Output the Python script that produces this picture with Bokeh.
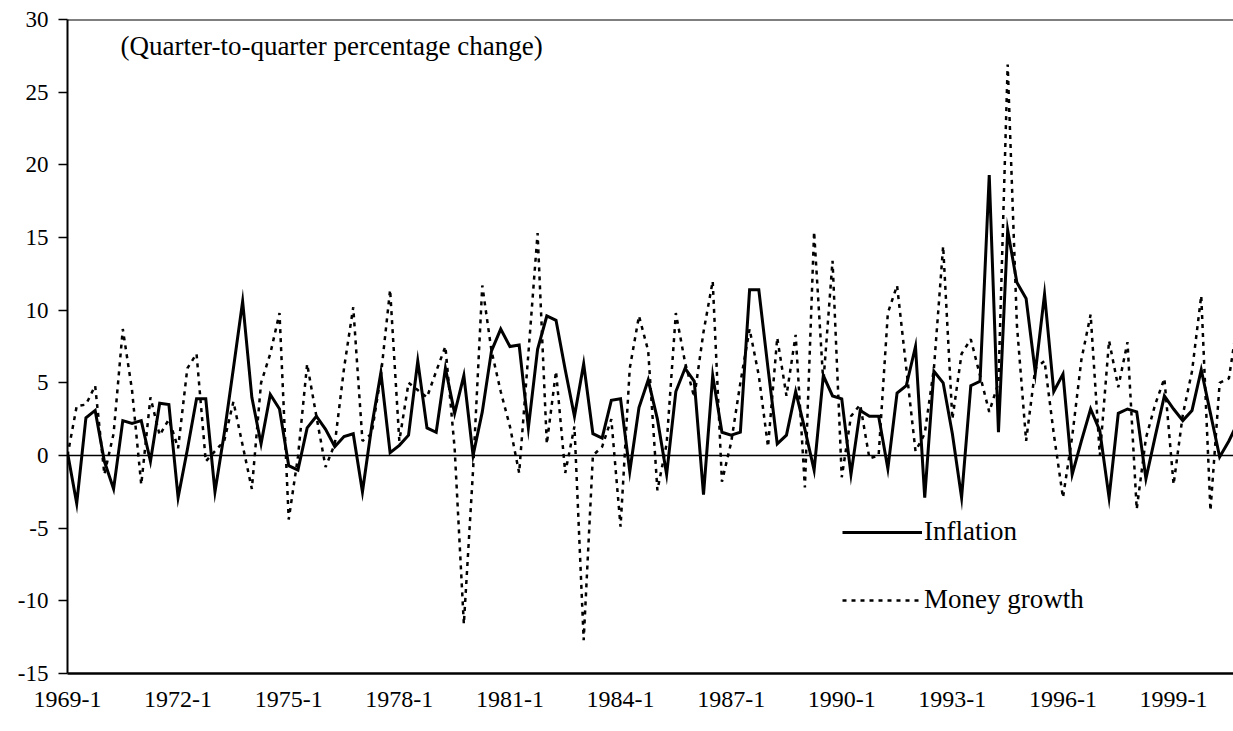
from bokeh.plotting import figure
from bokeh.models import Range1d, FixedTicker, Span, Label, Legend, LegendItem
from bokeh.embed import file_html
from bokeh.resources import INLINE

# Quarter-to-quarter percentage change, 1969-1 .. 2000-4
inflation = [
    0.2, -3.3, 2.6, 3.1, -0.4, -2.3, 2.4, 2.2, 2.4, -0.4, 3.6, 3.5,
    -2.9, 0.4, 3.9, 3.9, -2.5, 1.5, 6.0, 10.6, 4.0, 0.8, 4.2, 3.2,
    -0.7, -1.0, 1.9, 2.7, 1.8, 0.6, 1.3, 1.5, -2.5, 2.0, 5.7, 0.2,
    0.7, 1.4, 6.5, 1.9, 1.6, 6.0, 2.9, 5.5, 0.0, 3.0, 7.2, 8.7,
    7.5, 7.6, 1.9, 7.3, 9.6, 9.3, 5.9, 2.7, 6.3, 1.5, 1.2, 3.8,
    3.9, -1.1, 3.3, 5.2, 2.5, -1.3, 4.4, 6.0, 5.1, -2.7, 5.5, 1.6,
    1.4, 1.6, 11.4, 11.4, 6.0, 0.8, 1.4, 4.4, 1.8, -1.0, 5.5, 4.1,
    3.9, -1.3, 3.1, 2.7, 2.7, -0.9, 4.3, 4.8, 7.5, -2.9, 5.8, 5.0,
    1.5, -2.9, 4.8, 5.1, 19.3, 1.6, 15.5, 11.9, 10.8, 5.7, 11.1, 4.4,
    5.6, -1.3, 1.0, 3.2, 1.7, -2.9, 2.9, 3.2, 3.0, -1.6, 1.3, 4.1,
    3.2, 2.4, 3.1, 5.9, 2.9, -0.1, 1.0, 2.3,
]
money_growth = [
    0.0, 3.4, 3.5, 4.8, -1.3, 1.5, 8.7, 4.5, -2.0, 4.0, 1.4, 2.5,
    0.5, 6.0, 7.0, -0.4, 0.3, 1.0, 3.7, 0.7, -2.3, 5.0, 7.0, 9.8,
    -4.4, -0.1, 6.3, 2.7, -0.8, 0.8, 6.0, 10.2, 1.0, 1.5, 5.5, 11.4,
    1.0, 5.0, 4.5, 4.0, 5.8, 7.5, 0.5, -11.6, -1.0, 11.7, 7.2, 4.4,
    2.0, -1.2, 7.0, 15.3, 0.8, 5.8, -1.2, 2.0, -12.7, 0.0, 0.6, 2.5,
    -4.9, 6.0, 9.6, 7.2, -2.4, 0.8, 9.8, 6.4, 4.0, 8.5, 12.0, -1.8,
    0.9, 5.0, 8.7, 5.5, 0.6, 8.1, 4.1, 8.3, -2.2, 15.4, 5.0, 13.4,
    -1.5, 2.7, 3.5, -0.2, 0.0, 9.8, 11.7, 6.0, 0.3, 1.5, 6.0, 14.4,
    2.5, 7.0, 8.0, 5.5, 3.0, 5.0, 26.9, 9.0, 1.0, 6.0, 6.5, 1.5,
    -2.9, 1.3, 6.6, 9.7, 0.0, 7.9, 4.7, 7.8, -3.7, 1.2, 3.5, 5.3,
    -2.0, 2.8, 5.8, 11.0, -3.8, 5.0, 5.3, 9.5,
]
quarters = [f"{y}-{q}" for y in range(1969, 2001) for q in range(1, 5)]
tick_labels = ["1969-1", "1972-1", "1975-1", "1978-1", "1981-1", "1984-1",
               "1987-1", "1990-1", "1993-1", "1996-1", "1999-1"]
y_ticks = [-15, -10, -5, 0, 5, 10, 15, 20, 25, 30]
series_names = ["Inflation", "Money growth"]
note = "(Quarter-to-quarter percentage change)"

FONT = "Liberation Serif"
x = list(range(len(quarters)))
tick_pos = [quarters.index(t) for t in tick_labels]

p = figure(width=1233, height=728, output_backend="svg", toolbar_location=None,
           x_range=Range1d(0, 126.5), y_range=Range1d(-15, 30),
           min_border_left=67, min_border_right=0, min_border_top=19,
           min_border_bottom=55)
p.outline_line_color = None
p.xgrid.grid_line_color = None
p.ygrid.grid_line_color = None
p.background_fill_color = "white"
p.border_fill_color = "white"

# y axis
p.yaxis.ticker = FixedTicker(ticks=y_ticks)
p.yaxis.major_label_overrides = {v: str(v) for v in y_ticks}
p.yaxis.axis_line_width = 2
p.yaxis.axis_line_color = "black"
p.yaxis.major_tick_out = 9
p.yaxis.major_tick_in = 0
p.yaxis.major_tick_line_width = 1.5
p.yaxis.minor_tick_line_color = None
p.yaxis.major_label_standoff = 10
p.yaxis.major_label_text_font = FONT
p.yaxis.major_label_text_font_size = "23px"
p.yaxis.major_label_text_color = "black"

# x axis
p.xaxis.ticker = FixedTicker(ticks=tick_pos)
p.xaxis.major_label_overrides = {pos: lab for pos, lab in zip(tick_pos, tick_labels)}
p.xaxis.axis_line_width = 2.5
p.xaxis.axis_line_color = "black"
p.xaxis.major_tick_out = 0
p.xaxis.major_tick_in = 0
p.xaxis.minor_tick_line_color = None
p.xaxis.major_label_standoff = 18
p.xaxis.major_label_text_font = FONT
p.xaxis.major_label_text_font_size = "24px"
p.xaxis.major_label_text_color = "black"

# frame top line and zero line
p.add_layout(Span(location=30, dimension="width", line_color="black", line_width=2))
p.add_layout(Span(location=0, dimension="width", line_color="black", line_width=1.5))

r_mon = p.line(x, money_growth, line_color="black", line_width=2.5, line_dash="4 5")
r_inf = p.line(x, inflation, line_color="black", line_width=3, line_join="miter")

legend = Legend(items=[LegendItem(label=series_names[0], renderers=[r_inf]),
                       LegendItem(label=series_names[1], renderers=[r_mon])],
                location=(775, 58), glyph_width=80, glyph_height=30,
                label_height=30, spacing=37, padding=0, margin=0,
                label_standoff=2, border_line_color=None,
                background_fill_alpha=0, label_text_font=FONT,
                label_text_font_size="27px", label_text_color="black")
p.add_layout(legend)

p.add_layout(Label(x=5.75, y=28.2, text=note, text_font=FONT,
                   text_font_size="27px", text_baseline="middle",
                   text_color="black"))

open("out.html", "w").write(file_html(p, INLINE))
